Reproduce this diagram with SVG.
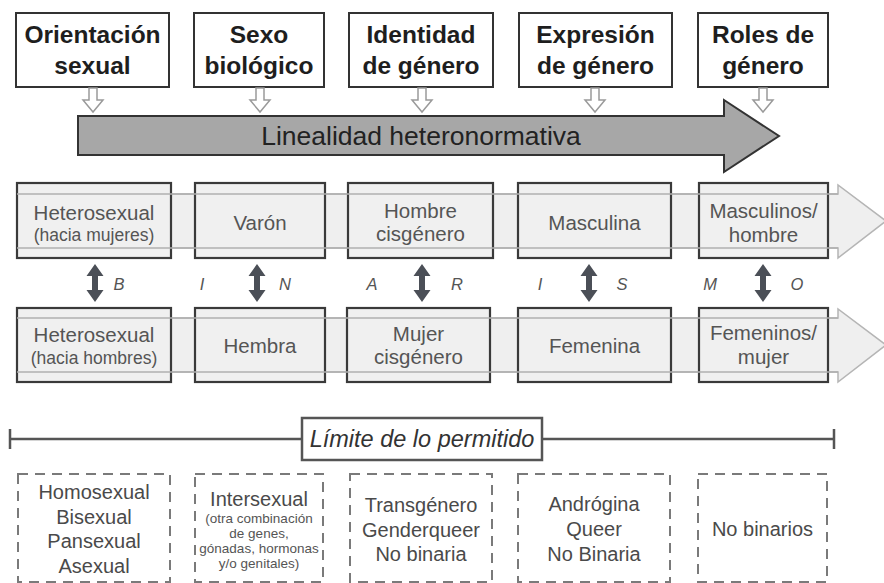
<svg xmlns="http://www.w3.org/2000/svg" width="884" height="583" viewBox="0 0 884 583">
<style>
.hdr{fill:#fff;stroke:#333;stroke-width:2}
.ht{font-family:"Liberation Sans",Arial,sans-serif;font-weight:bold;font-size:24.5px;fill:#1e1e1e;text-anchor:middle}
.dn{fill:#fff;stroke:#9a9a9a;stroke-width:1.5}
.band{fill:#efefef;stroke:#b5b5b5;stroke-width:1.5}
.bl{stroke:#b0b0b0;stroke-width:1.5;fill:none}
.mb{fill:#f0f0f0;stroke:#3a3a3a;stroke-width:2.2}
.mt{font-family:"Liberation Sans",Arial,sans-serif;font-size:20.5px;fill:#555;text-anchor:middle}
.ms{font-family:"Liberation Sans",Arial,sans-serif;font-size:17.5px;fill:#555;text-anchor:middle}
.va{fill:#4b4f57}
.lt{font-family:"Liberation Sans",Arial,sans-serif;font-style:italic;font-size:16.5px;fill:#555;text-anchor:middle}
.db{fill:none;stroke:#7a7a7a;stroke-width:2;stroke-dasharray:10 7}
.bt{font-family:"Liberation Sans",Arial,sans-serif;font-size:20px;fill:#4a4a4a;text-anchor:middle}
.bs{font-family:"Liberation Sans",Arial,sans-serif;font-size:13.5px;fill:#555;text-anchor:middle}
</style>
<defs>
<path id="dnar" d="M-4,0 L4,0 L4,12 L10,12 L0,24 L-10,12 L-4,12 Z"/>
<path id="vdbl" d="M0,0 L8.5,12 L3,12 L3,26 L8.5,26 L0,38 L-8.5,26 L-3,26 L-3,12 L-8.5,12 Z"/>
</defs>

<!-- Headers -->
<g id="h-orientacion"><rect class="hdr" x="16" y="13" width="153" height="74"/><text class="ht" x="92.5" y="43">Orientación</text><text class="ht" x="92.5" y="74">sexual</text></g>
<g id="h-sexo"><rect class="hdr" x="194" y="13" width="130" height="74"/><text class="ht" x="259" y="43">Sexo</text><text class="ht" x="259" y="74">biológico</text></g>
<g id="h-identidad"><rect class="hdr" x="349" y="13" width="144" height="74"/><text class="ht" x="421" y="43">Identidad</text><text class="ht" x="421" y="74">de género</text></g>
<g id="h-expresion"><rect class="hdr" x="519" y="13" width="153" height="74"/><text class="ht" x="595.5" y="43">Expresión</text><text class="ht" x="595.5" y="74">de género</text></g>
<g id="h-roles"><rect class="hdr" x="698" y="13" width="130" height="74"/><text class="ht" x="763" y="43">Roles de</text><text class="ht" x="763" y="74">género</text></g>

<!-- Big arrow -->
<g id="linealidad">
<polygon points="78,116 724,116 724,100 779,136 724,172 724,155 78,155" fill="#a7a7a7" stroke="#333" stroke-width="2"/>
<text x="421" y="145" font-family="Liberation Sans, Arial, sans-serif" font-size="26.5" fill="#222" text-anchor="middle">Linealidad heteronormativa</text>
</g>

<g id="connectors">
<use href="#dnar" class="dn" x="93" y="88"/>
<use href="#dnar" class="dn" x="260" y="88"/>
<use href="#dnar" class="dn" x="422" y="88"/>
<use href="#dnar" class="dn" x="595" y="88"/>
<use href="#dnar" class="dn" x="763" y="88"/>
<use href="#vdbl" class="va" x="95" y="264"/>
<use href="#vdbl" class="va" x="257" y="264"/>
<use href="#vdbl" class="va" x="422" y="264"/>
<use href="#vdbl" class="va" x="589" y="264"/>
<use href="#vdbl" class="va" x="763" y="264"/>
</g>

<!-- Row 1 band -->
<g id="band1">
<polygon class="band" points="17,194 838,194 838,185 886,221 838,258 838,248 17,248"/>
</g>
<g id="r1-hetero"><rect class="mb" x="17" y="183" width="154" height="75"/><text class="mt" x="94" y="220">Heterosexual</text><text class="ms" x="94" y="241">(hacia mujeres)</text></g>
<g id="r1-varon"><rect class="mb" x="195" y="183" width="130" height="75"/><text class="mt" x="260" y="230">Varón</text></g>
<g id="r1-hombre"><rect class="mb" x="348" y="183" width="145" height="75"/><text class="mt" x="420.5" y="218">Hombre</text><text class="mt" x="420.5" y="241">cisgénero</text></g>
<g id="r1-masculina"><rect class="mb" x="518" y="183" width="153" height="75"/><text class="mt" x="594.5" y="230">Masculina</text></g>
<g id="r1-masculinos"><rect class="mb" x="699" y="183" width="129" height="75"/><text class="mt" x="763.5" y="218">Masculinos/</text><text class="mt" x="763.5" y="242">hombre</text></g>
<g id="band1-lines"><path class="bl" d="M17,194 H838 M17,248 H838"/></g>

<!-- Letters -->
<g id="letters">
<text class="lt" x="119" y="290">B</text>
<text class="lt" x="202" y="290">I</text>
<text class="lt" x="285" y="290">N</text>
<text class="lt" x="372" y="290">A</text>
<text class="lt" x="457" y="290">R</text>
<text class="lt" x="540" y="290">I</text>
<text class="lt" x="622" y="290">S</text>
<text class="lt" x="710" y="290">M</text>
<text class="lt" x="797" y="290">O</text>
</g>

<!-- Row 2 band -->
<g id="band2">
<polygon class="band" points="17,318 838,318 838,309 886,345 838,382 838,372 17,372"/>
</g>
<g id="r2-hetero"><rect class="mb" x="17" y="308" width="154" height="74"/><text class="mt" x="94" y="342">Heterosexual</text><text class="ms" x="94" y="364">(hacia hombres)</text></g>
<g id="r2-hembra"><rect class="mb" x="195" y="308" width="130" height="74"/><text class="mt" x="260" y="353">Hembra</text></g>
<g id="r2-mujer"><rect class="mb" x="347" y="308" width="143" height="74"/><text class="mt" x="418.5" y="341">Mujer</text><text class="mt" x="418.5" y="364">cisgénero</text></g>
<g id="r2-femenina"><rect class="mb" x="518" y="308" width="153" height="74"/><text class="mt" x="594.5" y="353">Femenina</text></g>
<g id="r2-femeninos"><rect class="mb" x="699" y="308" width="129" height="74"/><text class="mt" x="763.5" y="340">Femeninos/</text><text class="mt" x="763.5" y="364">mujer</text></g>
<g id="band2-lines"><path class="bl" d="M17,318 H838 M17,372 H838"/></g>

<!-- Limite -->
<g id="limite">
<path d="M10,429 V449 M10,439 H302 M542,439 H834 M834,429 V449" stroke="#555" stroke-width="2.5" fill="none"/>
<rect x="302" y="418" width="240" height="42" fill="#fff" stroke="#555" stroke-width="2.5"/>
<text x="422" y="447" font-family="Liberation Sans, Arial, sans-serif" font-style="italic" font-size="23.5" fill="#333" text-anchor="middle">Límite de lo permitido</text>
</g>

<!-- Bottom dashed boxes -->
<g id="b-orientacion"><rect class="db" x="18" y="474" width="152" height="108"/><text class="bt" x="94" y="499">Homosexual</text><text class="bt" x="94" y="524">Bisexual</text><text class="bt" x="94" y="548">Pansexual</text><text class="bt" x="94" y="573">Asexual</text></g>
<g id="b-intersexual"><rect class="db" x="195" y="474" width="128" height="108"/><text class="bt" x="259" y="506">Intersexual</text><text class="bs" x="259" y="523">(otra combinación</text><text class="bs" x="259" y="538">de genes,</text><text class="bs" x="259" y="553">gónadas, hormonas</text><text class="bs" x="259" y="568">y/o genitales)</text></g>
<g id="b-transgenero"><rect class="db" x="350" y="474" width="142" height="108"/><text class="bt" x="421" y="512">Transgénero</text><text class="bt" x="421" y="537">Genderqueer</text><text class="bt" x="421" y="561">No binaria</text></g>
<g id="b-androgina"><rect class="db" x="518" y="474" width="152" height="108"/><text class="bt" x="594" y="511">Andrógina</text><text class="bt" x="594" y="536">Queer</text><text class="bt" x="594" y="561">No Binaria</text></g>
<g id="b-nobinarios"><rect class="db" x="698" y="474" width="129" height="108"/><text class="bt" x="762.5" y="536">No binarios</text></g>
</svg>
